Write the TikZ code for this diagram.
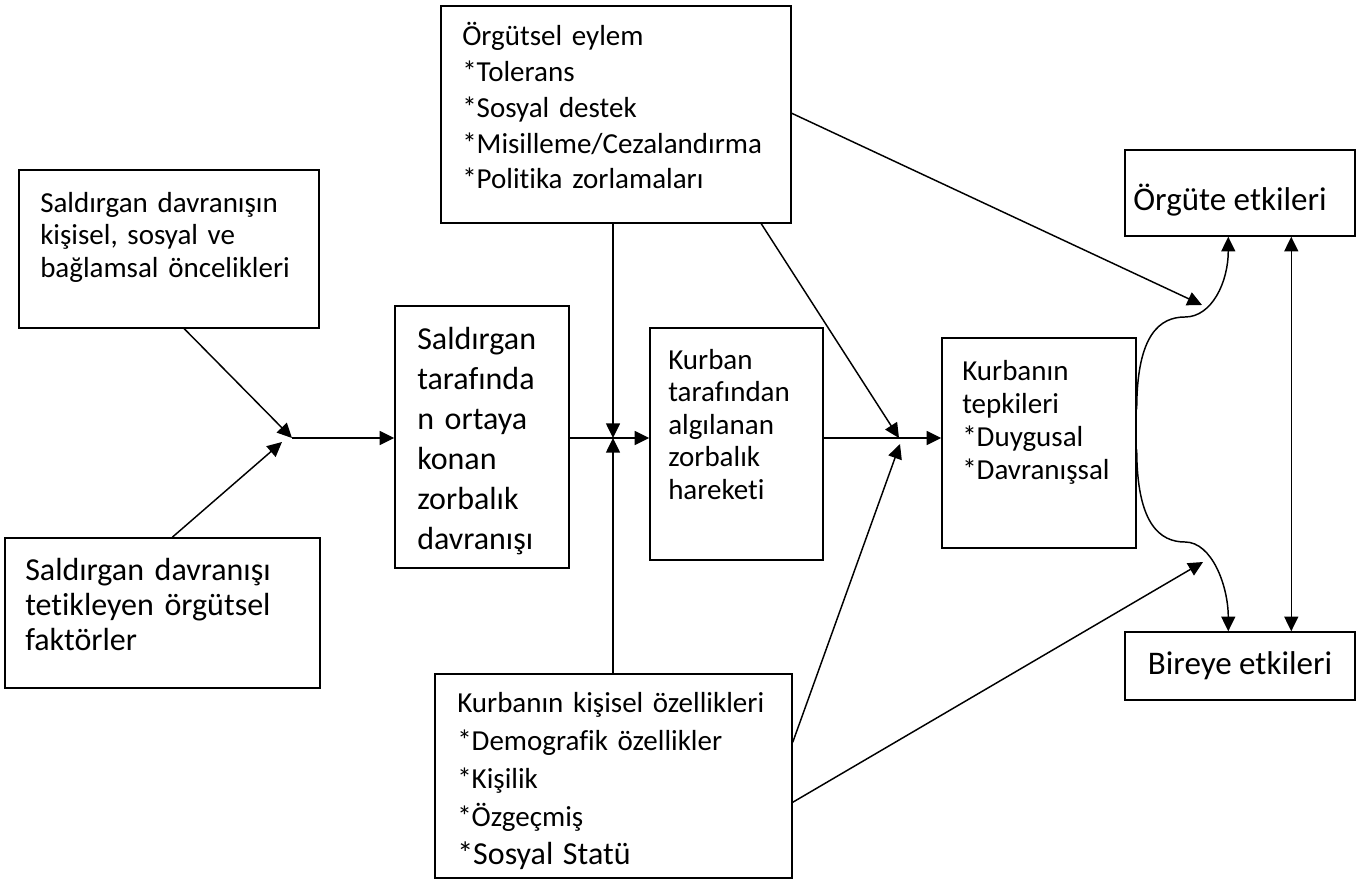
\documentclass[tikz,border=0pt]{standalone}
\usepackage{fontspec}
\setmainfont{Carlito}[Ligatures={NoCommon}]
\usetikzlibrary{arrows.meta,calc,fit}
\begin{document}
\begin{tikzpicture}[x=0.75pt,y=-0.75pt,
  box/.style={draw,line width=1.1pt,inner sep=0pt},
  txt/.style={anchor=base west,inner sep=0pt,align=left,text width=300pt,font=\fontsize{21.75}{24.4}\selectfont},
  arr/.style={-{Triangle[length=11pt,width=10.5pt]},line width=1.1pt},
  darr/.style={{Triangle[length=11pt,width=10.5pt]}-{Triangle[length=11pt,width=10.5pt]},line width=1.1pt}]
\useasboundingbox (0,0) rectangle (1360,881);
% boxes
\node[box,fit={(19,170)(319,328)}] (A) {};
\node[box,fit={(5,538)(320,688)}] (B) {};
\node[box,fit={(395,306)(569,568)}] (C) {};
\node[box,fit={(441,6)(791,223)}] (D) {};
\node[box,fit={(650,328)(823,560)}] (E) {};
\node[box,fit={(942,338)(1136,548)}] (F) {};
\node[box,fit={(1125,150)(1355,236)}] (G) {};
\node[box,fit={(1125,632)(1355,700)}] (H) {};
\node[box,fit={(435,674)(792,878)}] (I) {};
% texts
\node[txt] (tA) at (40,212) {Saldırgan davranışın\\kişisel, sosyal ve\\bağlamsal öncelikleri};
\node[txt,font=\fontsize{24}{26.25}\selectfont] (tB) at (25,580) {Saldırgan davranışı\\tetikleyen örgütsel\\faktörler};
\node[txt,font=\fontsize{24}{30}\selectfont] (tC) at (417,349) {Saldırgan\\tarafında\\n ortaya\\konan\\zorbalık\\davranışı};
\node[txt,font=\fontsize{21.75}{26.8}\selectfont] (tD) at (462,46) {Örgütsel eylem\\{*}Tolerans\\{*}Sosyal destek\\{*}Misilleme/Cezalandırma\\{*}Politika zorlamaları};
\node[txt] (tE) at (668,369) {Kurban\\tarafından\\algılanan\\zorbalık\\hareketi};
\node[txt,font=\fontsize{21.75}{24.8}\selectfont] (tF) at (962,380) {Kurbanın\\tepkileri\\{*}Duygusal\\{*}Davranışsal};
\node[txt,font=\fontsize{21.75}{28.5}\selectfont] (tI) at (457,712) {Kurbanın kişisel özellikleri\\{*}Demografik özellikler\\{*}Kişilik\\{*}Özgeçmiş\\{\fontsize{24}{28.5}\selectfont *Sosyal Statü}};
\node[inner sep=0pt,font=\fontsize{24.75}{28}\selectfont] (tG) at (1230,200) {Örgüte etkileri};
\node[inner sep=0pt,font=\fontsize{24.75}{28}\selectfont] (tH) at (1240,666) {Bireye etkileri};
% junctions
\coordinate (j1) at (292,438);
\coordinate (j1b) at (282,442);
\coordinate (j2) at (613,438);
\coordinate (j3) at (899,438);
\coordinate (j3b) at (900,444);
\coordinate (t1) at (1202,305);
\coordinate (t2) at (1203,562);
\coordinate (c1) at (1185,317);
\coordinate (c2) at (1185,542);
% connectors
\draw[arr] ($(A.south west)+(166,0)$) -- (j1);
\draw[arr] ($(B.north west)+(168,0)$) -- (j1b);
\draw[arr] (j1) -- (j1 -| C.west);
\draw[arr] (C.east |- j2) -- (E.west |- j2);
\draw[arr] (D.south -| j2) -- (j2);
\draw[arr] (I.north -| j2) -- (j2);
\draw[arr] ($(D.south west)+(321,0)$) -- (j3);
\draw[arr] ($(I.north east)+(0,69)$) -- (j3b);
\draw[arr] (E.east |- j3) -- (F.west |- j3);
\draw[arr] ($(D.north east)+(0,108)$) -- (t1);
\draw[arr] ($(I.north east)+(0,129)$) -- (t2);
\draw[arr] ($(F.north east)+(0,72)$) .. controls ($(F.north east)+(0,-3)$) and (1160,317) .. (c1)
  .. controls (1212,317) and ($(G.south west)+(104,45)$) .. ($(G.south west)+(104,0)$);
\draw[arr] ($(F.north east)+(0,112)$) .. controls ($(F.north east)+(0,187)$) and (1160,542) .. (c2)
  .. controls (1212,542) and ($(H.north west)+(104,-45)$) .. ($(H.north west)+(104,0)$);
\draw[darr] ($(G.south west)+(167,0)$) -- ($(H.north west)+(167,0)$);
\end{tikzpicture}
\end{document}
